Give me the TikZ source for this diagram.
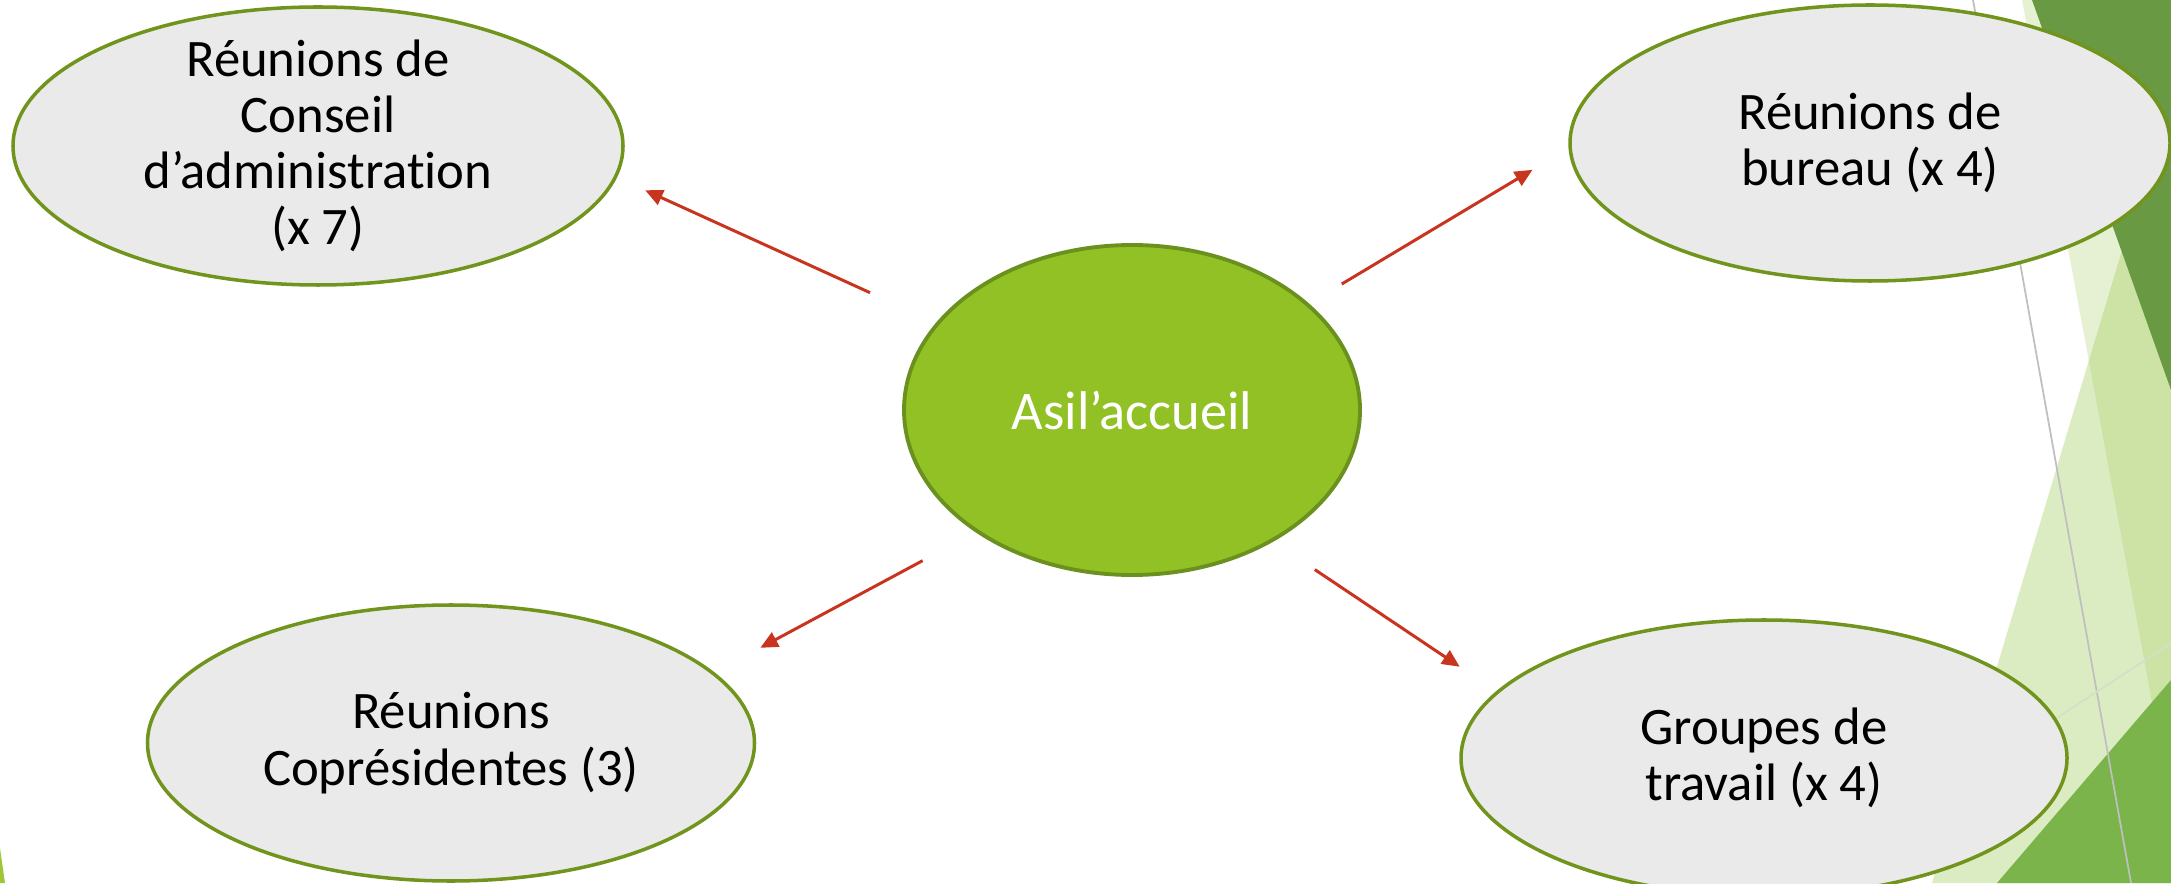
\documentclass[tikz,border=0pt]{standalone}
\usepackage{fontspec}
\setmainfont{Carlito}[Ligatures=NoCommon]
\usetikzlibrary{shapes.geometric,arrows.meta}
\definecolor{grisbulle}{RGB}{234,234,234}
\definecolor{bordbulle}{RGB}{112,148,28}
\definecolor{vertcentre}{RGB}{146,193,37}
\definecolor{bordcentre}{RGB}{106,144,30}
\definecolor{rouge}{RGB}{200,52,30}
\definecolor{vertfonce}{RGB}{106,153,68}
\definecolor{vertmoyen}{RGB}{122,180,74}
\definecolor{vertpale}{RGB}{155,200,80}
\tikzset{
    bulle/.style={ellipse,draw=bordbulle,line width=1pt,fill=grisbulle,
      inner sep=-0.4cm,align=center,font=\fontsize{15}{16}\selectfont},
    centre/.style={bulle,draw=bordcentre,line width=1.1pt,fill=vertcentre,text=white,
      font=\fontsize{15.5}{16}\selectfont},
    fleche/.style={draw=rouge,line width=0.85pt,-{Triangle[length=5pt,width=4.5pt]}},
  }
\begin{document}
\begin{tikzpicture}
				  %CADRE
				  \useasboundingbox (0,0) rectangle (21.71,8.83);
				  \clip (0,0) rectangle (21.71,8.83);
				  %DECOR A DROITE
				  \fill[vertpale,opacity=0.25] (20.22,8.83) -- (21.71,8.83) -- (21.71,0.78) -- cycle;
				  \fill[vertpale,opacity=0.35] (21.71,7.96) -- (19.32,0) -- (21.71,0) -- cycle;
				  \fill[vertfonce] (20.32,8.83) -- (21.71,8.83) -- (21.71,4.93) -- cycle;
				  \fill[vertmoyen] (21.71,2.03) -- (21.71,0) -- (19.97,0) -- cycle;
				  \draw[gray!50,line width=0.5pt] (19.73,8.83) -- (21.31,0);
				  \draw[vertfonce!30,line width=0.5pt] (21.71,2.40) -- (19.90,1.21);
				  \fill[vertcentre!90] (0,0.35) -- (0.05,0) -- (0,0) -- cycle;
				  %BULLES
				  \node[centre,minimum width=4.56cm,minimum height=3.30cm] (asil) at (11.32,4.73) {Asil’accueil};
				  \node[bulle,minimum width=6.10cm,minimum height=2.78cm] (ca) at (3.18,7.37)
				      {Réunions de\\Conseil\\d’administration\\(x 7)};
				  \node[bulle,minimum width=6.00cm,minimum height=2.76cm] (bureau) at (18.70,7.40)
				      {Réunions de\\bureau (x 4)};
				  \node[bulle,minimum width=6.07cm,minimum height=2.76cm] (copres) at (4.51,1.40)
				      {Réunions\\Coprésidentes (3)};
				  \node[bulle,minimum width=6.06cm,minimum height=2.76cm] (groupes) at (17.64,1.25)
				      {Groupes de\\travail (x 4)};
				  %FLECHES
				  \draw[fleche,shorten <=0.725cm,shorten >=0.31cm] (asil.156.7) -- (ca.-6.9);
				  \draw[fleche,shorten <=0.38cm,shorten >=0.42cm] (asil.31.2) -- (bureau.181.5);
				  \draw[fleche,shorten <=0.60cm,shorten >=0.52cm] (asil.218.1) -- (copres.15.6);
				  \draw[fleche,shorten <=0.50cm,shorten >=0.44cm] (asil.-43.8) -- (groupes.166.7);
\end{tikzpicture}
\end{document}
